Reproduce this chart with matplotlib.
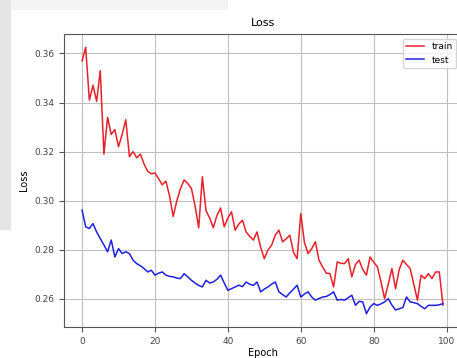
import matplotlib
matplotlib.use("Agg")
import matplotlib.pyplot as plt
from matplotlib.patches import Rectangle

epochs = list(range(100))
train_loss = [
    0.357, 0.3625, 0.341, 0.347, 0.3405, 0.353, 0.319, 0.334, 0.327, 0.329,
    0.322, 0.327, 0.333, 0.318, 0.320, 0.3175, 0.319, 0.315, 0.312, 0.311,
    0.3113, 0.309, 0.3065, 0.308, 0.302, 0.2936, 0.300, 0.305, 0.3085, 0.307,
    0.305, 0.298, 0.289, 0.3098, 0.296, 0.293, 0.289, 0.294, 0.297, 0.2894,
    0.293, 0.2955, 0.288, 0.2905, 0.2921, 0.2873, 0.2855, 0.284, 0.2873, 0.281,
    0.2764, 0.280, 0.2819, 0.286, 0.288, 0.2833, 0.2845, 0.286, 0.279, 0.2764,
    0.2948, 0.283, 0.2785, 0.2805, 0.2833, 0.2758, 0.273, 0.2705, 0.2703, 0.2649,
    0.2751, 0.2745, 0.2744, 0.2764, 0.269, 0.274, 0.2758, 0.272, 0.2697, 0.2771,
    0.275, 0.2731, 0.267, 0.2601, 0.266, 0.2724, 0.2642, 0.272, 0.2758, 0.274,
    0.2724, 0.266, 0.2595, 0.2697, 0.2683, 0.2703, 0.2683, 0.271, 0.271, 0.2575,
]
test_loss = [
    0.2962, 0.2894, 0.2887, 0.2907, 0.2873, 0.2846, 0.282, 0.2792, 0.284, 0.2771,
    0.2805, 0.2785, 0.2792, 0.2785, 0.2758, 0.2744, 0.2735, 0.2724, 0.271, 0.2717,
    0.2697, 0.2705, 0.271, 0.2697, 0.2692, 0.269, 0.2685, 0.2683, 0.2703, 0.269,
    0.2676, 0.2665, 0.2655, 0.2649, 0.2676, 0.2665, 0.2669, 0.268, 0.2697, 0.2665,
    0.2635, 0.2642, 0.2649, 0.2656, 0.2650, 0.2669, 0.2660, 0.2655, 0.2669, 0.2629,
    0.264, 0.2649, 0.2660, 0.2669, 0.2629, 0.2618, 0.2608, 0.2625, 0.264, 0.2656,
    0.2608, 0.262, 0.2629, 0.2608, 0.2595, 0.2602, 0.2608, 0.261, 0.2618, 0.2629,
    0.2595, 0.2598, 0.2595, 0.2605, 0.2615, 0.2574, 0.259, 0.2588, 0.254, 0.2567,
    0.2581, 0.2574, 0.258, 0.2588, 0.2601, 0.2575, 0.2555, 0.256, 0.2565, 0.2608,
    0.2588, 0.2585, 0.2581, 0.257, 0.256, 0.2574, 0.2574, 0.2574, 0.2576, 0.2581,
]
series_labels = ["train", "test"]
title_text = "Loss"
x_label = "Epoch"
y_label = "Loss"

W, H = 457, 358
fig = plt.figure(figsize=(W / 100, H / 100), dpi=100)
fig.patch.set_facecolor("white")

# screenshot background artifacts
fig.patches.append(Rectangle((0, 1 - 10 / H), 228 / W, 10 / H, transform=fig.transFigure,
                             facecolor="#f4f4f4", edgecolor="none", zorder=0))
fig.patches.append(Rectangle((0, 1 - 230 / H), 11 / W, 230 / H, transform=fig.transFigure,
                             facecolor="#e6e6e6", edgecolor="none", zorder=0))

left, right, top, bottom = 64, 461, 34, 327
ax = fig.add_axes([left / W, 1 - bottom / H, (right - left) / W, (bottom - top) / H])
ax.plot(epochs, train_loss, color="#e8202a", linewidth=1.1, label=series_labels[0])
ax.plot(epochs, test_loss, color="#2020e0", linewidth=1.1, label=series_labels[1])
ax.grid(True, color="#c0c0c0", linewidth=0.8)
for s in ax.spines.values():
    s.set_color("#555555")
ax.set_title(title_text, fontsize=8)
ax.set_xlabel(x_label, fontsize=7, labelpad=2)
ax.set_ylabel(y_label, fontsize=7)
ax.tick_params(labelsize=6.5, colors="#555555", labelcolor="#444444")
ax.set_yticks([0.26, 0.28, 0.30, 0.32, 0.34, 0.36])
ax.set_xticks([0, 20, 40, 60, 80, 100])
ax.legend(loc="upper right", fontsize=6.5, framealpha=0.8)
fig.savefig("out.png", dpi=100)
